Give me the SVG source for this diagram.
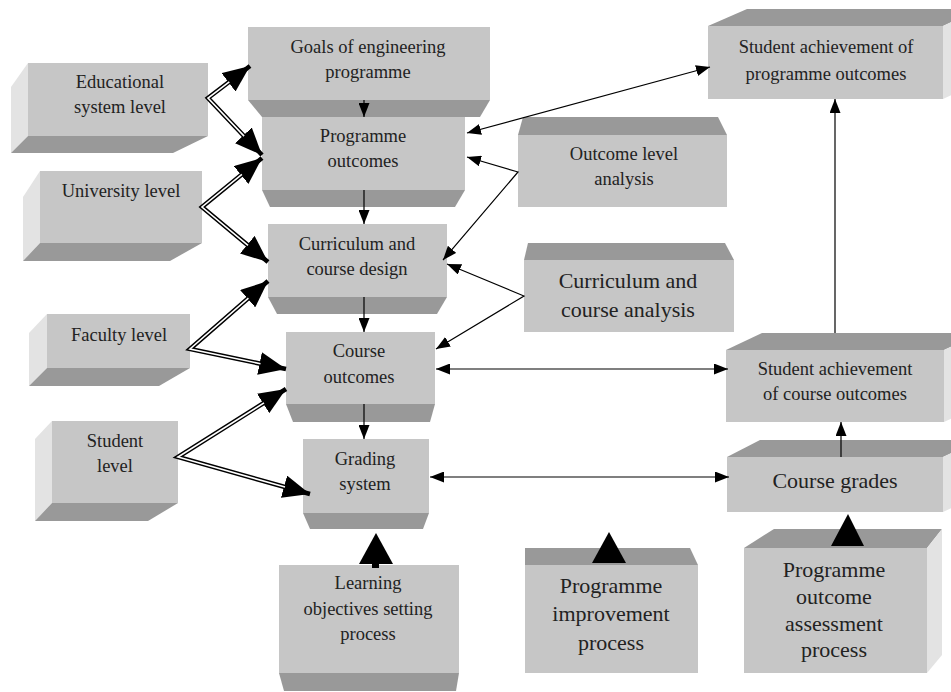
<svg xmlns="http://www.w3.org/2000/svg" width="951" height="692" viewBox="0 0 951 692">
<style>
.f{fill:#c6c6c6}
.d{fill:#999999}
.l{fill:#e3e3e3}
text{font-family:"Liberation Serif","Times New Roman",serif;fill:#222;text-anchor:middle}
.s{font-size:18.5px}
.b{font-size:22px}
.thin{fill:none;stroke:#000;stroke-width:1.2}
.dbo{fill:none;stroke:#000;stroke-width:4.5;stroke-linejoin:miter;stroke-miterlimit:20}
.dbi{fill:none;stroke:#fff;stroke-width:1.6;stroke-linejoin:miter;stroke-miterlimit:20}
</style>
<defs>
<marker id="a" markerUnits="userSpaceOnUse" markerWidth="14" markerHeight="11" refX="14" refY="5.5" orient="auto-start-reverse"><path d="M0,0 L14,5.5 L0,11 z" fill="#000"/></marker>
<marker id="A" markerUnits="userSpaceOnUse" markerWidth="27" markerHeight="23" refX="27" refY="11.5" orient="auto-start-reverse"><path d="M0,0 L27,11.5 L0,23 z" fill="#000"/></marker>
</defs>
<rect width="951" height="692" fill="#fff"/>

<g id="educational">
<polygon class="l" points="11,87 28,63 28,136 11,153"/>
<rect class="f" x="28" y="63" width="180" height="73"/>
<polygon class="d" points="28,136 208,136 173,153 11,153"/>
<text class="s" x="120" y="88">Educational</text>
<text class="s" x="120" y="113">system level</text>
</g>
<g id="university">
<polygon class="l" points="23,197 40,171 40,243 23,261"/>
<rect class="f" x="40" y="171" width="162" height="72"/>
<polygon class="d" points="40,243 202,243 170,261 23,261"/>
<text class="s" x="121" y="197">University level</text>
</g>
<g id="faculty">
<polygon class="l" points="29,333 47,314 47,368 29,386"/>
<rect class="f" x="47" y="314" width="143" height="54"/>
<polygon class="d" points="47,368 190,368 159,386 29,386"/>
<text class="s" x="119" y="341">Faculty level</text>
</g>
<g id="student">
<polygon class="l" points="35,439 52,421 52,503 35,521"/>
<rect class="f" x="52" y="421" width="126" height="82"/>
<polygon class="d" points="52,503 178,503 148,521 35,521"/>
<text class="s" x="115" y="447">Student</text>
<text class="s" x="115" y="472">level</text>
</g>
<g id="prog-outcomes">
<rect class="f" x="262" y="117" width="203" height="73"/>
<polygon class="d" points="262,190 465,190 455,207 270,207"/>
<text class="s" x="363" y="142">Programme</text>
<text class="s" x="363" y="167">outcomes</text>
</g>
<g id="goals">
<rect class="f" x="248" y="27" width="242" height="73"/>
<polygon class="d" points="248,100 490,100 480,117 262,117"/>
<text class="s" x="368" y="53">Goals of engineering</text>
<text class="s" x="368" y="78">programme</text>
</g>
<g id="curr-design">
<rect class="f" x="268" y="224" width="179" height="73"/>
<polygon class="d" points="268,297 447,297 437,314 277,314"/>
<text class="s" x="357" y="250">Curriculum and</text>
<text class="s" x="357" y="275">course design</text>
</g>
<g id="course-outcomes">
<rect class="f" x="286" y="332" width="149" height="72"/>
<polygon class="d" points="286,404 435,404 430,422 293,422"/>
<text class="s" x="359" y="357">Course</text>
<text class="s" x="359" y="383">outcomes</text>
</g>
<g id="grading">
<rect class="f" x="303" y="439" width="126" height="74"/>
<polygon class="d" points="303,513 429,513 423,529 310,529"/>
<text class="s" x="365" y="465">Grading</text>
<text class="s" x="365" y="490">system</text>
</g>
<g id="learning">
<rect class="f" x="279" y="565" width="180" height="108"/>
<polygon class="d" points="279,673 459,673 456,691 284,691"/>
<text class="s" x="368" y="589">Learning</text>
<text class="s" x="368" y="615">objectives setting</text>
<text class="s" x="368" y="640">process</text>
</g>
<g id="improvement">
<polygon class="d" points="525,548 690,548 698,565 525,565"/>
<rect class="f" x="525" y="565" width="173" height="108"/>
<text class="b" x="611" y="593">Programme</text>
<text class="b" x="611" y="621">improvement</text>
<text class="b" x="611" y="650">process</text>
</g>
<g id="outcome-analysis">
<polygon class="d" points="523,117 718,117 727,135 518,135"/>
<rect class="f" x="518" y="135" width="209" height="72"/>
<text class="s" x="624" y="160">Outcome level</text>
<text class="s" x="624" y="185">analysis</text>
</g>
<g id="curr-analysis">
<polygon class="d" points="528,243 725,243 734,260 524,260"/>
<rect class="f" x="524" y="260" width="210" height="72"/>
<text class="b" x="628" y="288">Curriculum and</text>
<text class="b" x="628" y="317">course analysis</text>
</g>
<g id="ach-programme">
<polygon class="d" points="747,9 980,9 943,26 708,26"/>
<polygon class="l" points="943,26 980,9 980,82 943,99"/>
<rect class="f" x="708" y="26" width="235" height="73"/>
<text class="s" x="826" y="53">Student achievement of</text>
<text class="s" x="826" y="80">programme outcomes</text>
</g>
<g id="ach-course">
<polygon class="d" points="762,333 980,333 944,350 726,350"/>
<polygon class="l" points="944,350 980,333 980,405 944,422"/>
<rect class="f" x="726" y="350" width="218" height="72"/>
<text class="s" x="835" y="375">Student achievement</text>
<text class="s" x="835" y="400">of course outcomes</text>
</g>
<g id="course-grades">
<polygon class="d" points="760,440 980,440 943,457 727,457"/>
<polygon class="l" points="943,457 980,440 980,495 943,512"/>
<rect class="f" x="727" y="457" width="216" height="55"/>
<text class="b" x="835" y="488">Course grades</text>
</g>
<g id="assessment">
<polygon class="d" points="774,529 942,529 927,548 744,548"/>
<polygon class="l" points="927,548 942,529 942,655 927,673"/>
<rect class="f" x="744" y="548" width="183" height="125"/>
<text class="b" x="834" y="577">Programme</text>
<text class="b" x="834" y="604">outcome</text>
<text class="b" x="834" y="631">assessment</text>
<text class="b" x="834" y="657">process</text>
</g>

<g id="connectors">
<path class="dbo" d="M250,66 L208,98 L262,155" marker-start="url(#A)" marker-end="url(#A)"/>
<path class="dbi" d="M229.3,81.8 L208,98 L244.1,136.1"/>
<path class="dbo" d="M262,158 L202,207 L268,262" marker-start="url(#A)" marker-end="url(#A)"/>
<path class="dbi" d="M241.9,174.4 L202,207 L248,245.4"/>
<path class="dbo" d="M268,281 L190,349 L286,369" marker-start="url(#A)" marker-end="url(#A)"/>
<path class="dbi" d="M248.4,298.1 L190,349 L260.5,363.7"/>
<path class="dbo" d="M286,389 L178,457 L310,494" marker-start="url(#A)" marker-end="url(#A)"/>
<path class="dbi" d="M264,402.9 L178,457 L285,487"/>

<path class="thin" d="M364,100 L364,117" marker-end="url(#a)"/>
<path class="thin" d="M364,190 L364,224" marker-end="url(#a)"/>
<path class="thin" d="M364,297 L364,332" marker-end="url(#a)"/>
<path class="thin" d="M364,404 L364,439" marker-end="url(#a)"/>
<path class="thin" d="M467,133 L710,67" marker-start="url(#a)" marker-end="url(#a)"/>
<path class="thin" d="M467,157 L518,172 L443,260" marker-start="url(#a)" marker-end="url(#a)"/>
<path class="thin" d="M447,264 L524,296 L436,349" marker-start="url(#a)" marker-end="url(#a)"/>
<path class="thin" d="M436,369 L728,369" marker-start="url(#a)" marker-end="url(#a)"/>
<path class="thin" d="M430,477 L729,477" marker-start="url(#a)" marker-end="url(#a)"/>
<path class="thin" d="M835,333 L835,99" marker-end="url(#a)"/>
<path class="thin" d="M841,457 L841,422" marker-end="url(#a)"/>

<line x1="375.5" y1="568" x2="375.5" y2="560" stroke="#000" stroke-width="7"/>
<polygon points="376,533 393,564 359,564" fill="#000"/>
<polygon points="609,532 626,563 592,563" fill="#000"/>
<polygon points="848,514 864,546 831,546" fill="#000"/>
</g>
</svg>
